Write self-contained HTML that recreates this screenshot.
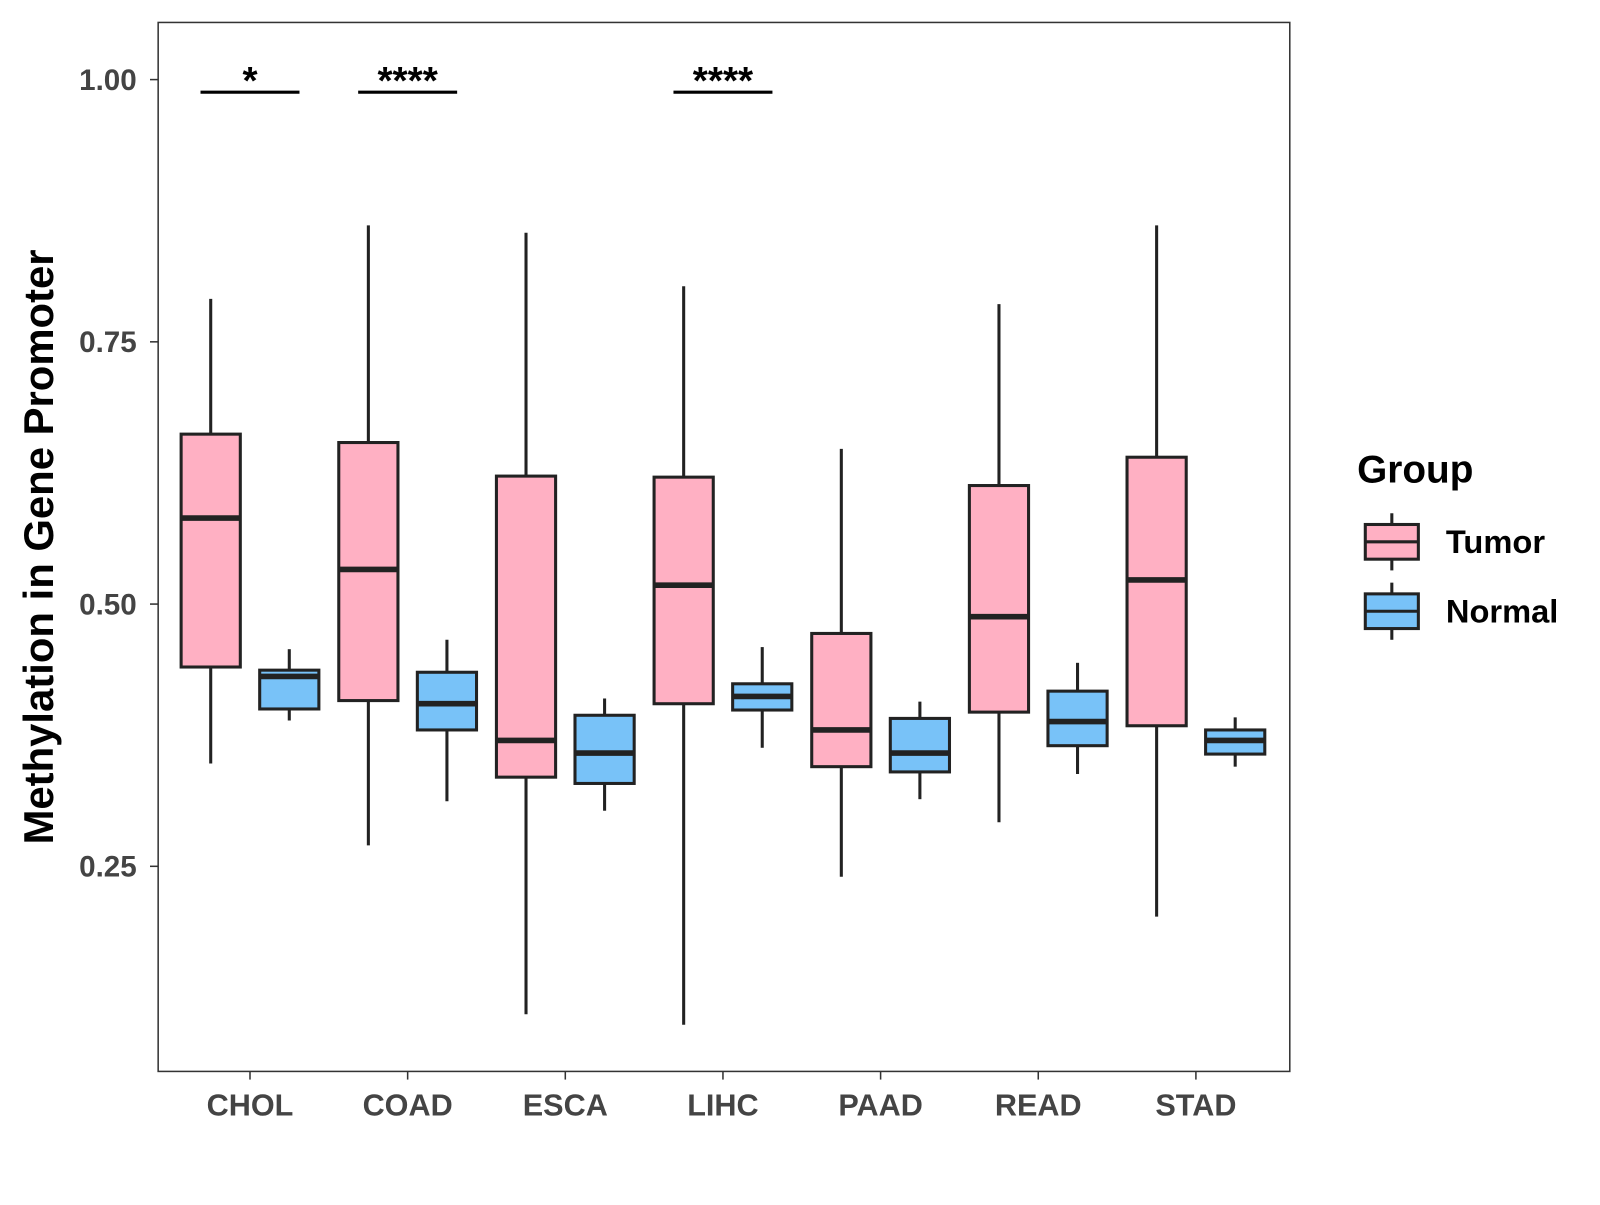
<!DOCTYPE html>
<html><head><meta charset="utf-8"><style>
body{margin:0;background:#fff;}
svg text{font-family:"Liberation Sans",Arial,sans-serif;font-weight:bold;}
</style></head><body>
<svg width="1600" height="1200" xmlns="http://www.w3.org/2000/svg"><g id="chart" transform="scale(1.0204)"></g></svg>
<script>
const categories=["CHOL","COAD","ESCA","LIHC","PAAD","READ","STAD"];
// [lowerWhisker, Q1, median, Q3, upperWhisker]
const tumor=[[0.348,0.440,0.582,0.662,0.791],[0.270,0.408,0.533,0.654,0.861],[0.109,0.335,0.370,0.622,0.854],[0.099,0.405,0.518,0.621,0.803],[0.240,0.345,0.380,0.472,0.648],[0.292,0.397,0.488,0.613,0.786],[0.202,0.384,0.523,0.640,0.861]];
const normal=[[0.389,0.400,0.431,0.437,0.457],[0.312,0.380,0.405,0.435,0.466],[0.303,0.329,0.358,0.394,0.410],[0.363,0.399,0.412,0.424,0.459],[0.314,0.340,0.358,0.391,0.407],[0.338,0.365,0.388,0.417,0.444],[0.345,0.357,0.370,0.380,0.392]];
const yTicks=[0.25,0.50,0.75,1.00];
const yTickLabels=["0.25","0.50","0.75","1.00"];
const sigCats=["CHOL","COAD","LIHC"];
const sigLabels=["*","****","****"];
const sigY=0.988;

const svg=document.getElementById('chart');
const NS="http://www.w3.org/2000/svg";
const L=155,T=22,R=1264,B=1050;
const y=v=>78+(1-v)*1028;
const x=i=>245+i*154.5;
function mk(tag,attrs,parent){const e=document.createElementNS(NS,tag);for(const k in attrs)e.setAttribute(k,attrs[k]);(parent||svg).appendChild(e);return e;}

const panel=mk('rect',{x:L,y:T,width:R-L,height:B-T,fill:'#fff',stroke:'#333',"stroke-width":1.5});



yTicks.forEach((t,i)=>{
  const g=mk('g',{});
  
  
  mk('line',{x1:147,x2:L,y1:y(t),y2:y(t),stroke:'#333',"stroke-width":1.5},g);
  const tx=mk('text',{x:134,y:y(t)+10,"text-anchor":"end","font-size":29,fill:'#444'},g);
  tx.textContent=yTickLabels[i];
});

function box(d,cx,fill,name){
  const g=mk('g',{});
  
  
  const w=58;
  mk('line',{x1:cx,x2:cx,y1:y(d[4]),y2:y(d[3]),stroke:'#222',"stroke-width":3},g);
  mk('line',{x1:cx,x2:cx,y1:y(d[1]),y2:y(d[0]),stroke:'#222',"stroke-width":3},g);
  mk('rect',{x:cx-w/2,y:y(d[3]),width:w,height:y(d[1])-y(d[3]),fill:fill,stroke:'#222',"stroke-width":3},g);
  mk('line',{x1:cx-w/2,x2:cx+w/2,y1:y(d[2]),y2:y(d[2]),stroke:'#222',"stroke-width":5.5},g);
}
categories.forEach((c,i)=>{
  box(tumor[i],x(i)-38.5,'#FFB0C3','box-tumor-'+c.toLowerCase());
  box(normal[i],x(i)+38.5,'#78C2F8','box-normal-'+c.toLowerCase());
  const g=mk('g',{});
  
  
  mk('line',{x1:x(i),x2:x(i),y1:B,y2:B+8,stroke:'#333',"stroke-width":1.5},g);
  const tx=mk('text',{x:x(i),y:1093,"text-anchor":"middle","font-size":30,fill:'#444'},g);
  tx.textContent=c;
});

sigCats.forEach((c,k)=>{
  const i=categories.indexOf(c);
  const g=mk('g',{});
  
  
  mk('line',{x1:x(i)-48.5,x2:x(i)+48.5,y1:y(sigY),y2:y(sigY),stroke:'#000',"stroke-width":3},g);
  const tx=mk('text',{x:x(i),y:y(sigY)+2,"text-anchor":"middle","font-size":38,fill:'#000'},g);
  tx.textContent=sigLabels[k];
});

const yt=mk('text',{x:0,y:0,transform:'translate(52,536) rotate(-90)',"text-anchor":"middle","font-size":41,fill:'#000'});


yt.textContent='Methylation in Gene Promoter';

const lg=mk('g',{});


const ltitle=mk('text',{x:1330,y:473,"font-size":38,fill:'#000'},lg);
ltitle.textContent='Group';
[["Tumor",'#FFB0C3',531],["Normal",'#78C2F8',599]].forEach(([n,f,cy])=>{
  const e=mk('g',{},lg);
  
  
  mk('line',{x1:1364,x2:1364,y1:cy-28,y2:cy+28,stroke:'#222',"stroke-width":3},e);
  mk('rect',{x:1338,y:cy-17,width:52,height:34,fill:f,stroke:'#222',"stroke-width":3},e);
  mk('line',{x1:1338,x2:1390,y1:cy,y2:cy,stroke:'#222',"stroke-width":3},e);
  const t=mk('text',{x:1417,y:cy+11,"font-size":32,fill:'#000'},e);
  t.textContent=n;
});
</script>
</body></html>
